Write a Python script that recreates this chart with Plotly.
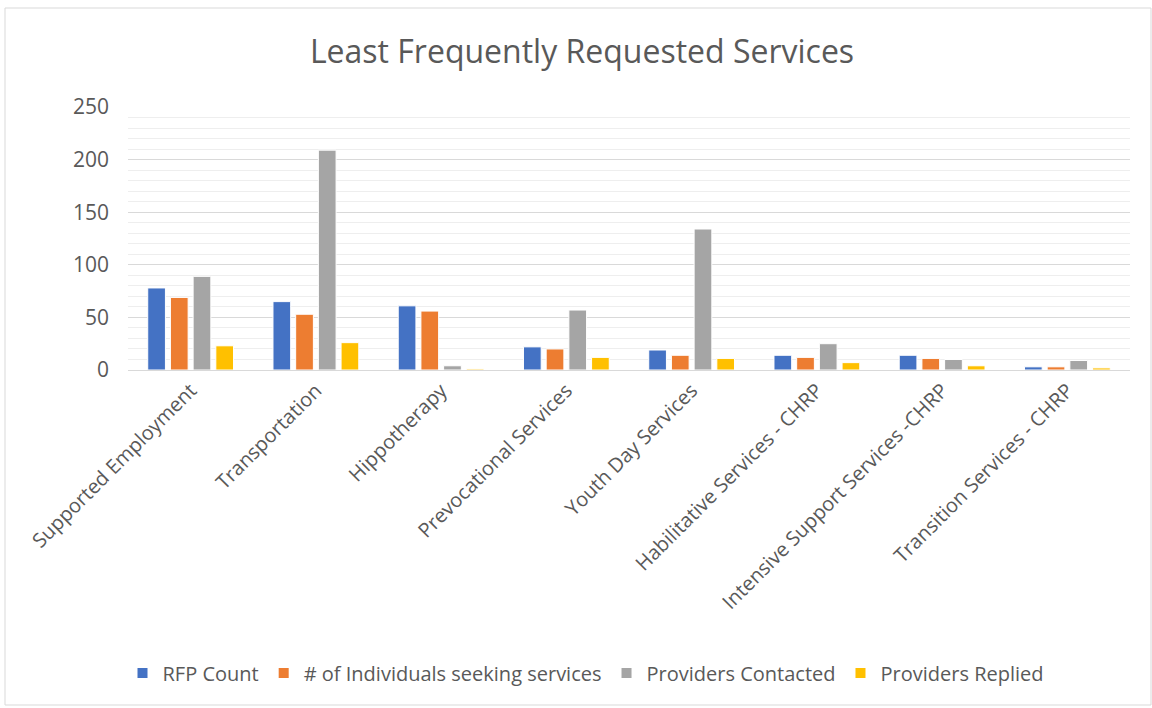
import plotly.graph_objects as go

categories = ["Supported Employment", "Transportation", "Hippotherapy", "Prevocational Services",
              "Youth Day Services", "Habilitative Services - CHRP", "Intensive Support Services -CHRP",
              "Transition Services - CHRP"]
rfp_count = [78, 65, 61, 22, 19, 14, 14, 3]
individuals = [69, 53, 56, 20, 14, 12, 11, 3]
contacted = [89, 209, 4, 57, 134, 25, 10, 9]
replied = [23, 26, 1, 12, 11, 7, 4, 2]

series = [
    ("RFP Count", rfp_count, "#4472C4"),
    ("# of Individuals seeking services", individuals, "#ED7D31"),
    ("Providers Contacted", contacted, "#A5A5A5"),
    ("Providers Replied", replied, "#FFC000"),
]

FONT = "Open Sans"
TXT = "#595959"

fig = go.Figure()
for name, vals, col in series:
    fig.add_trace(go.Bar(x=categories, y=vals, name=name,
                         marker=dict(color=col, line=dict(color="white", width=1))))

W, H = 1152, 708
L, R, T, B = 128, 1130, 107, 370
pw, ph = R - L, B - T

def px(x):
    return (x - L) / pw

def py(y):
    return (B - y) / ph

fig.update_layout(
    width=W, height=H,
    margin=dict(l=L, r=W - R, t=T, b=H - B, autoexpand=False),
    paper_bgcolor="white", plot_bgcolor="white",
    barmode="group", bargap=0.275, bargroupgap=0.22,
    font=dict(family=FONT, color=TXT, size=20),
    title=dict(text="Least Frequently Requested Services", x=582 / W, xanchor="center",
               y=1 - 52 / H, yanchor="middle", xref="container", yref="container",
               font=dict(family=FONT, size=32, color=TXT)),
    legend=dict(orientation="h", x=px(586), xanchor="center", y=py(673), yanchor="middle",
                font=dict(family=FONT, size=20, color=TXT), itemwidth=30,
                traceorder="normal", itemsizing="constant"),
    showlegend=True,
    xaxis=dict(tickangle=-45, showline=True, linecolor="#d9d9d9", linewidth=1,
               ticks="", tickfont=dict(family=FONT, size=20, color=TXT), fixedrange=True),
    yaxis=dict(range=[0, 250], dtick=50, showgrid=True, gridcolor="#d9d9d9", gridwidth=1,
               zeroline=False, showline=False, ticks="",
               tickfont=dict(family=FONT, size=21, color=TXT), ticklabelstandoff=18,
               minor=dict(dtick=10, showgrid=True, gridcolor="#eeeeee", gridwidth=1)),
    shapes=[dict(type="rect", xref="paper", yref="paper",
                 x0=px(5), x1=px(1151), y0=py(705), y1=py(8),
                 line=dict(color="#d9d9d9", width=1), fillcolor="rgba(0,0,0,0)", layer="below")],
)

fig.write_html("out.html")
